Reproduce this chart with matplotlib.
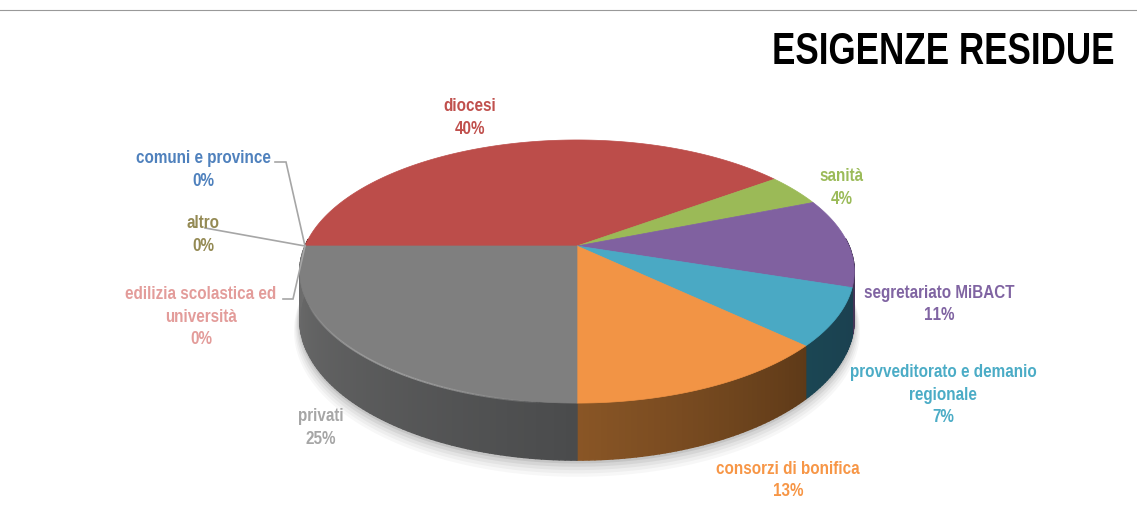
import os
import tempfile
import numpy as np
import matplotlib
matplotlib.use("Agg")
import matplotlib.pyplot as plt
from matplotlib import font_manager as fm
from matplotlib.collections import PolyCollection, LineCollection
from matplotlib.patches import Polygon

# ---- data ----
categories = ["diocesi", "sanità", "segretariato MiBACT",
              "provveditorato e demanio\nregionale", "consorzi di bonifica",
              "privati", "edilizia scolastica ed\nuniversità", "altro", "comuni e province"]
values = [40, 4, 11, 7, 13, 25, 0, 0, 0]
title_text = "ESIGENZE RESIDUE"

# ---- style ----
top_colors = ["#BC4D4A", "#9BBA57", "#8061A0", "#4AA9C4", "#F29445", "#7F7F7F", "#E6A0A0", "#948A54", "#4F81BD"]
label_colors = ["#C0504D", "#9BBB59", "#8064A2", "#4BACC6", "#F79646", "#A6A6A6", "#E39C9A", "#948A54", "#4F81BD"]
side_left = ["#5a2a28", "#55662f", "#463658", "#1B4653", "#8A5626", "#6E6E6E", "#727272", "#727272", "#727272"]
side_right = ["#5a2a28", "#55662f", "#3a2c4c", "#1B4050", "#5E3A18", "#4A4B4C", "#727272", "#727272", "#727272"]
label_pos = [(470, 118), (842, 188), (939, 304.5), (943, 395), (788, 480.5),
             (321, 428), (201, 317), (203, 235), (203, 170)]


def narrow_family(scale=0.8):
    """Build a horizontally condensed bold face, since no narrow font is installed."""
    path = fm.findfont(fm.FontProperties(family="Liberation Sans", weight="bold"))
    try:
        from fontTools.ttLib import TTFont
        from fontTools.pens.ttGlyphPen import TTGlyphPen
        from fontTools.pens.transformPen import TransformPen
        from fontTools.pens.recordingPen import DecomposingRecordingPen
        font = TTFont(path)
        gs = font.getGlyphSet()
        glyf, hmtx = font["glyf"], font["hmtx"]
        new_glyphs, new_metrics = {}, {}
        for name in font.getGlyphOrder():
            rec = DecomposingRecordingPen(gs)
            gs[name].draw(rec)
            pen = TTGlyphPen(None)
            rec.replay(TransformPen(pen, (scale, 0, 0, 1, 0, 0)))
            new_glyphs[name] = pen.glyph()
            adv, lsb = hmtx[name]
            new_metrics[name] = (int(adv * scale), int(lsb * scale))
        for name, g in new_glyphs.items():
            glyf[name] = g
            hmtx[name] = new_metrics[name]
        for tag in ("fpgm", "prep", "cvt ", "hdmx", "VDMX", "LTSH", "GPOS", "GSUB", "kern"):
            if tag in font:
                del font[tag]
        fam = "CondensedLiberation"
        for rec in font["name"].names:
            if rec.nameID in (1, 4, 16):
                rec.string = fam
            elif rec.nameID == 6:
                rec.string = fam + "-Bold"
        out = os.path.join(tempfile.mkdtemp(), "condensed.ttf")
        font.save(out)
        fm.fontManager.addfont(out)
        return fam
    except Exception as exc:
        print("fallback font:", exc)
        return "Liberation Sans"


family = narrow_family(0.8)
condensed = family != "Liberation Sans"
label_size = 13.7 if condensed else 11.2
title_size = 31.5 if condensed else 25.2

# perspective disc projection
CX, CY, A, B, K, DEPTH = 577, 246, 272, 126.6, 0.194, 46


def project(theta, drop=0.0, scale=1.0):
    u, v = np.cos(theta) * scale, np.sin(theta) * scale
    w = 1 + K * v
    return CX + A * u / w, CY - B * v / w + drop / w


fig = plt.figure(figsize=(11.37, 5.32), dpi=100)
ax = fig.add_axes([0, 0, 1, 1])
ax.set_xlim(0, 1137)
ax.set_ylim(532, 0)
ax.axis("off")

ax.plot([0, 1137], [9.5, 9.5], color="#999999", lw=0.8)

fractions = np.array(values) / sum(values)
ends = np.pi - 2 * np.pi * np.cumsum(fractions)
starts = np.concatenate([[np.pi], ends[:-1]])

# soft shadow under the disc
tt = np.linspace(0, 2 * np.pi, 361)
for grow, alpha in zip([10, 8, 6, 4, 2], [0.03, 0.035, 0.045, 0.06, 0.08]):
    x, y = project(tt, DEPTH + grow, 1 + grow / 500)
    ax.add_patch(Polygon(np.c_[x, y], closed=True, fc="#000000", ec="none", alpha=alpha, zorder=1))

# side wall, drawn as shaded strips (angles run clockwise: right to left along the front)
polys, cols = [], []
for a0, a1, cl, cr, val in zip(starts, ends, side_left, side_right, values):
    if val == 0:
        continue
    n = max(2, int(abs(a1 - a0) / np.radians(1.0)))
    th = np.linspace(a0, a1, n + 1)
    c0, c1 = np.array(matplotlib.colors.to_rgb(cr)), np.array(matplotlib.colors.to_rgb(cl))
    for i in range(n):
        if np.sin(th[i]) > 0.05 and np.sin(th[i + 1]) > 0.05:
            continue
        xa, ya = project(th[i])
        xb, yb = project(th[i + 1])
        xc, yc = project(th[i + 1], DEPTH)
        xd, yd = project(th[i], DEPTH)
        polys.append([(xa, ya), (xb, yb), (xc, yc), (xd, yd)])
        cols.append(c0 + (c1 - c0) * i / n)
ax.add_collection(PolyCollection(polys, facecolors=cols, edgecolors=cols, linewidths=1.0, zorder=2))

# top face
for a0, a1, col, val in zip(starts, ends, top_colors, values):
    if val == 0:
        continue
    th = np.linspace(a0, a1, 200)
    x, y = project(th)
    pts = np.vstack([[CX, CY], np.c_[x, y]])
    ax.add_patch(Polygon(pts, closed=True, fc=col, ec=col, lw=0.5, zorder=3))

# bright rim along the grey wedge, fading out at both ends
a0, a1 = starts[5], ends[5]
th = np.linspace(a0 - np.radians(6), a1 + np.radians(25), 120)
x, y = project(th, 0.5)
pts = np.c_[x, y]
segs = np.stack([pts[:-1], pts[1:]], axis=1)
fade = np.sin(np.linspace(0, np.pi, len(segs))) ** 0.6 * 0.8
rim_cols = [(0.65, 0.65, 0.65, f) for f in fade]
ax.add_collection(LineCollection(segs, colors=rim_cols, linewidths=1.3, zorder=4))

# leader lines for the empty slices
hub = project(np.pi)
for pts in ([(275, 162), (286, 162), hub], [(205, 228), hub], [(283, 299), (293, 299), hub]):
    xs, ys = zip(*pts)
    ax.plot(xs, ys, color="#A6A6A6", lw=1.2, zorder=5, solid_joinstyle="miter")

# labels
for name, val, col, pos in zip(categories, values, label_colors, label_pos):
    ax.text(pos[0], pos[1], f"{name}\n{val}%", color=col, ha="center", va="center",
            family=family, fontweight="bold", fontsize=label_size, linespacing=1.4, zorder=6)

ax.text(1115, 52, title_text, color="black", ha="right", va="center",
        family=family, fontweight="bold", fontsize=title_size, zorder=6)

fig.savefig("out.png", dpi=100, facecolor="white")
